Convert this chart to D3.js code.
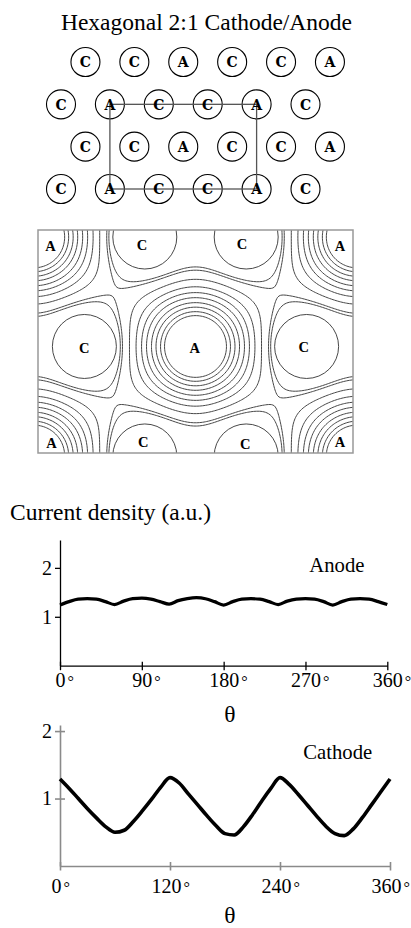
<!DOCTYPE html>
<html>
<head>
<meta charset="utf-8">
<script src="https://cdnjs.cloudflare.com/ajax/libs/d3/7.8.5/d3.min.js"></script>
<style>
body { margin: 0; background: #fff; }
svg text { font-family: "Liberation Serif", "Times New Roman", serif; fill: #000; }
</style>
</head>
<body>
<svg id="chart" width="411" height="928"></svg>
<script>
// ---------- data ----------
// rows of the hexagonal electrode lattice (top sketch)
var latticeRows = [
    ["C", "C", "A", "C", "C", "A"],
    ["C", "A", "C", "C", "A", "C"],
    ["C", "C", "A", "C", "C", "A"],
    ["C", "A", "C", "C", "A", "C"]
];
// unit cell drawn on the lattice: [column, row] of two opposite anodes
var cellCorners = [[1, 1], [4, 3]];

// electrode sites of one periodic cell (u, v) and the cell period
var anodeSites = [[0, 0], [1.5, 1]];
var cathodeSites = [[1.03, 0], [1.97, 0], [0.47, 1], [2.53, 1]];
var cellPeriod = [3, 2];
// u positions where the contour lines cross the middle row (v = 1)
var levelCrossings = [1.787, 1.824, 1.866, 1.908, 1.954, 2.0, 2.051, 2.112, 2.177, 2.197];
// labels on the contour map: [text, u, v]
var mapLabels = [
    ["A", 0.156, 0.085], ["C", 1.004, 0.073], ["C", 1.931, 0.064], ["A", 2.839, 0.082],
    ["C", 0.469, 1.016], ["A", 1.493, 1.016], ["C", 2.504, 1.005],
    ["A", 0.164, 1.881], ["C", 1.016, 1.869], ["C", 1.962, 1.893], ["A", 2.839, 1.869]
];

// current density along the electrode perimeter
var theta = [0, 10, 20, 30, 40, 50, 60, 70, 80, 90, 100, 110, 120, 130, 140, 150, 160, 170, 180,
             190, 200, 210, 220, 230, 240, 250, 260, 270, 280, 290, 300, 310, 320, 330, 340, 350, 360];
var anodeDensity = [1.24, 1.31, 1.36, 1.37, 1.36, 1.31, 1.25, 1.32, 1.37, 1.38, 1.36, 1.31, 1.26,
                    1.33, 1.37, 1.39, 1.37, 1.31, 1.24, 1.31, 1.36, 1.37, 1.36, 1.31, 1.25,
                    1.32, 1.36, 1.37, 1.36, 1.31, 1.24, 1.31, 1.36, 1.37, 1.36, 1.31, 1.25];
var cathodeDensity = [1.29, 1.15, 1.00, 0.85, 0.71, 0.58, 0.50, 0.53, 0.66, 0.82, 0.99, 1.17, 1.31,
                      1.23, 1.07, 0.91, 0.75, 0.60, 0.48, 0.46, 0.58, 0.76, 0.96, 1.15, 1.31,
                      1.21, 1.06, 0.90, 0.74, 0.59, 0.48, 0.45, 0.55, 0.72, 0.91, 1.10, 1.29];
var anodeTicks = [0, 90, 180, 270, 360];
var cathodeTicks = [0, 120, 240, 360];
var densityTicks = [1, 2];

var svg = d3.select("#chart");

// ---------- title ----------
svg.append("text")
    .attr("x", 206.5).attr("y", 30)
    .attr("text-anchor", "middle")
    .attr("font-size", 23.5)
    .text("Hexagonal 2:1 Cathode/Anode");

// ---------- lattice sketch ----------
var lx = d3.scaleLinear().domain([0, 5]).range([61, 305.5]);
var ly = d3.scaleLinear().domain([0, 3]).range([62, 189]);

var sites = [];
latticeRows.forEach(function (row, r) {
    row.forEach(function (lab, k) {
        sites.push({u: k + (r % 2 === 0 ? 0.5 : 0), r: r, lab: lab});
    });
});

var lat = svg.append("g");
lat.selectAll("circle").data(sites).enter().append("circle")
    .attr("cx", function (d) { return lx(d.u); })
    .attr("cy", function (d) { return ly(d.r); })
    .attr("r", 14.5)
    .attr("fill", "none")
    .attr("stroke", "#000")
    .attr("stroke-width", 1.1);

lat.append("rect")
    .attr("x", lx(cellCorners[0][0]))
    .attr("y", ly(cellCorners[0][1]))
    .attr("width", lx(cellCorners[1][0]) - lx(cellCorners[0][0]))
    .attr("height", ly(cellCorners[1][1]) - ly(cellCorners[0][1]))
    .attr("fill", "none")
    .attr("stroke", "#555")
    .attr("stroke-width", 1.3);

lat.selectAll("text").data(sites).enter().append("text")
    .attr("x", function (d) { return lx(d.u); })
    .attr("y", function (d) { return ly(d.r); })
    .attr("dy", "0.37em")
    .attr("text-anchor", "middle")
    .style("font-family", "'DejaVu Serif', serif")
    .style("font-weight", "bold")
    .attr("font-size", 14)
    .text(function (d) { return d.lab; });

// ---------- contour map ----------
var mx = d3.scaleLinear().domain([0.04, 2.96]).range([38, 353]);
var my = d3.scaleLinear().domain([-0.064, 1.973]).range([230, 453]);
var cu = 1.5, cv = 1;   // central anode

// every anode carries its six nearest cathodes (1/6 share of charge each side)
var nbrOffsets = anodeSites.map(function (a) {
    var out = [];
    cathodeSites.forEach(function (c) {
        for (var i = -1; i <= 1; i++) for (var j = -1; j <= 1; j++) {
            var du = c[0] + i * cellPeriod[0] - a[0], dv = c[1] + j * cellPeriod[1] - a[1];
            if (Math.sqrt(du * du + dv * dv) < 1.2) out.push([du, dv]);
        }
    });
    return out;
});

var mols = [];
var cx0 = mx(cu), cy0 = my(cv);
for (var i = -9; i <= 9; i++) {
    for (var j = -9; j <= 9; j++) {
        anodeSites.forEach(function (a, s) {
            var u = a[0] + i * cellPeriod[0], v = a[1] + j * cellPeriod[1];
            var px = mx(u), py = my(v);
            if (Math.hypot(px - cx0, py - cy0) > 950) return;
            mols.push({x: px, y: py, nb: nbrOffsets[s].map(function (o) {
                return [mx(u + o[0]), my(v + o[1])];
            })});
        });
    }
}

function potential(x, y) {
    var s = 0;
    for (var k = 0; k < mols.length; k++) {
        var m = mols[k];
        var dx = x - m.x, dy = y - m.y;
        s -= Math.log(dx * dx + dy * dy + 1e-6);
        for (var n = 0; n < m.nb.length; n++) {
            var ex = x - m.nb[n][0], ey = y - m.nb[n][1];
            s += Math.log(ex * ex + ey * ey + 1e-6) / 6;
        }
    }
    return s;
}

var step = 1.5, gx0 = 33, gy0 = 225;
var nx = Math.ceil((358 - gx0) / step) + 1, ny = Math.ceil((458 - gy0) / step) + 1;
var field = new Float64Array(nx * ny);
for (var gj = 0; gj < ny; gj++) {
    for (var gi = 0; gi < nx; gi++) {
        field[gi + gj * nx] = potential(gx0 + gi * step, gy0 + gj * step);
    }
}
var levels = levelCrossings.map(function (u) { return potential(mx(u), my(cv)); })
    .sort(function (a, b) { return a - b; });

var contours = d3.contours().size([nx, ny]).thresholds(levels)(Array.from(field));
var cpath = d3.geoPath(d3.geoIdentity().scale(step).translate([gx0 - step / 2, gy0 - step / 2]));

svg.append("clipPath").attr("id", "mapclip")
    .append("rect").attr("x", 38).attr("y", 230).attr("width", 315).attr("height", 223);

// cathode surfaces inside and around the map
var cathodes = [];
for (var ci = -1; ci <= 1; ci++) {
    for (var cj = -1; cj <= 1; cj++) {
        cathodeSites.forEach(function (c) {
            cathodes.push([c[0] + ci * cellPeriod[0], c[1] + cj * cellPeriod[1]]);
        });
    }
}

var map = svg.append("g");
var inner = map.append("g").attr("clip-path", "url(#mapclip)");
inner.selectAll("path").data(contours).enter().append("path")
    .attr("d", cpath)
    .attr("fill", "none")
    .attr("stroke", "#333")
    .attr("stroke-width", 0.9);
inner.selectAll("circle").data(cathodes).enter().append("circle")
    .attr("cx", function (d) { return mx(d[0]); })
    .attr("cy", function (d) { return my(d[1]); })
    .attr("r", 32)
    .attr("fill", "none")
    .attr("stroke", "#333")
    .attr("stroke-width", 0.9);

map.append("rect")
    .attr("x", 38).attr("y", 230).attr("width", 315).attr("height", 223)
    .attr("fill", "none")
    .attr("stroke", "#999")
    .attr("stroke-width", 1.5);

map.selectAll("text.lab").data(mapLabels).enter().append("text")
    .attr("class", "lab")
    .attr("x", function (d) { return mx(d[1]); })
    .attr("y", function (d) { return my(d[2]); })
    .attr("dy", "0.35em")
    .attr("text-anchor", "middle")
    .attr("font-size", 14.5)
    .style("font-weight", "bold")
    .text(function (d) { return d[0]; });

// ---------- current density profiles ----------
svg.append("text")
    .attr("x", 10).attr("y", 520)
    .attr("font-size", 23.5)
    .text("Current density (a.u.)");

function drawProfile(cfg) {
    var x = d3.scaleLinear().domain([0, 360]).range(cfg.xr);
    var y = d3.scaleLinear().domain(cfg.yd).range(cfg.yr);
    var g = svg.append("g");

    var xa = g.append("g")
        .attr("transform", "translate(0," + cfg.yr[0] + ")")
        .call(d3.axisBottom(x).tickValues(cfg.ticks).tickSize(4).tickSizeOuter(0)
            .tickFormat(d3.format("d")));
    xa.selectAll(".tick line").attr("y1", -4).attr("y2", 4.5);
    xa.selectAll(".tick text")
        .attr("x", cfg.labelShift)
        .attr("y", cfg.xLabelOffset).attr("dy", null)
        .attr("font-size", 20);
    xa.selectAll(".tick").each(function () {
        var w = d3.select(this).select("text").node().getComputedTextLength();
        d3.select(this).append("text")
            .attr("x", cfg.labelShift + w / 2 + 2).attr("y", cfg.xLabelOffset)
            .attr("text-anchor", "start")
            .attr("font-size", 16)
            .text("°");
    });

    var ya = g.append("g")
        .attr("transform", "translate(" + cfg.xr[0] + ",0)")
        .call(d3.axisLeft(y).tickValues(densityTicks).tickSize(5).tickPadding(3).tickSizeOuter(0)
            .tickFormat(d3.format("d")));
    ya.selectAll(".tick line").attr("x1", cfg.yTickIn);
    ya.selectAll(".tick text").attr("font-size", 20);

    g.selectAll(".domain, .tick line")
        .attr("stroke", cfg.axisColor)
        .attr("stroke-width", cfg.axisWidth);

    var line = d3.line()
        .x(function (d, k) { return x(theta[k]); })
        .y(function (d) { return y(d); })
        .curve(d3.curveMonotoneX);
    g.append("path")
        .datum(cfg.values)
        .attr("d", line)
        .attr("fill", "none")
        .attr("stroke", "#000")
        .attr("stroke-width", cfg.lineWidth)
        .attr("stroke-linejoin", "round");

    g.append("text")
        .attr("x", cfg.name[1]).attr("y", cfg.name[2])
        .attr("font-size", 20.7)
        .text(cfg.name[0]);

    g.append("text")
        .attr("x", 230).attr("y", cfg.thetaY)
        .attr("text-anchor", "middle")
        .attr("font-size", 23.5)
        .text("θ");
}

drawProfile({
    xr: [60, 387.3], yd: [0, 2.57], yr: [665.7, 540],
    ticks: anodeTicks, values: anodeDensity,
    xLabelOffset: 21, yTickIn: 0, labelShift: 0,
    axisColor: "#000", axisWidth: 1.3, lineWidth: 3.2,
    name: ["Anode", 309.3, 571.7], thetaY: 721.5
});

drawProfile({
    xr: [60, 390], yd: [0, 2.09], yr: [866, 725],
    ticks: cathodeTicks, values: cathodeDensity,
    xLabelOffset: 27, yTickIn: 5, labelShift: -4,
    axisColor: "#8a8a8a", axisWidth: 1.6, lineWidth: 3.6,
    name: ["Cathode", 303.3, 759.3], thetaY: 923
});
</script>
</body>
</html>
